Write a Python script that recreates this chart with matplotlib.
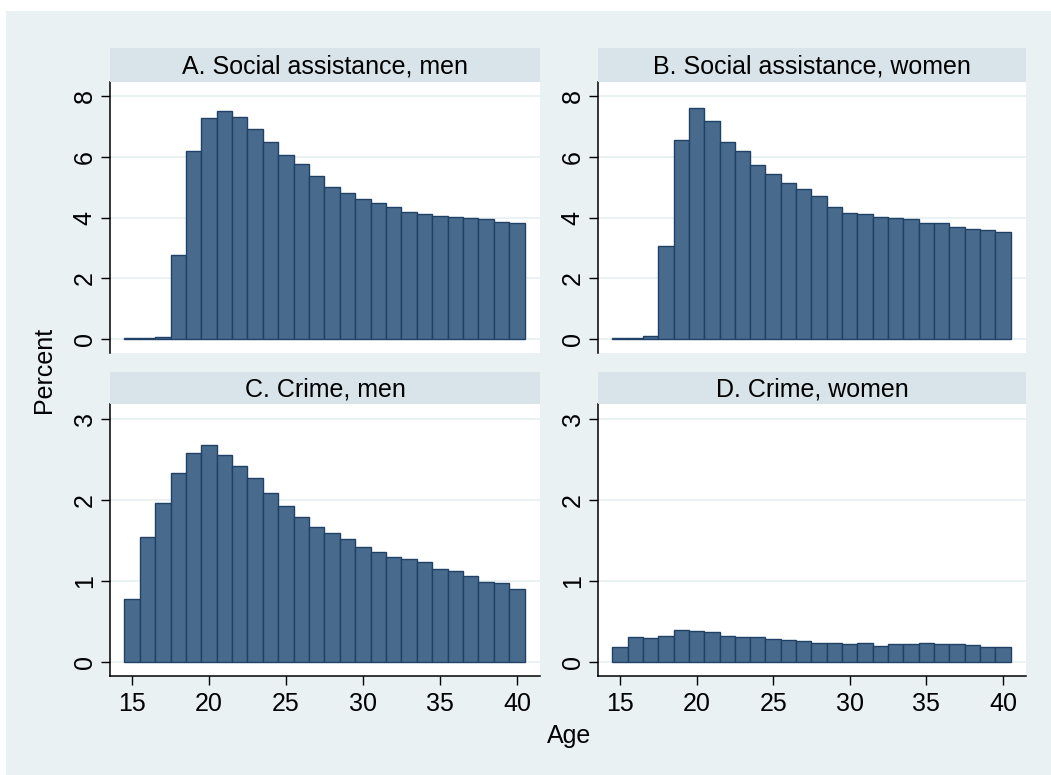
import matplotlib
matplotlib.use('Agg')
import matplotlib.pyplot as plt
import numpy as np

plt.rcParams['font.family'] = ['Liberation Sans', 'DejaVu Sans']

ages = list(range(15, 41))

sa_men = [0.02, 0.02, 0.08, 2.77, 6.20, 7.26, 7.49, 7.30, 6.90, 6.49, 6.07, 5.76, 5.36,
          5.02, 4.80, 4.61, 4.49, 4.34, 4.19, 4.12, 4.05, 4.02, 3.97, 3.94, 3.85, 3.81]
sa_women = [0.02, 0.02, 0.11, 3.07, 6.54, 7.59, 7.19, 6.49, 6.19, 5.73, 5.43, 5.14, 4.93,
            4.70, 4.36, 4.15, 4.11, 4.01, 3.97, 3.95, 3.81, 3.83, 3.70, 3.62, 3.60, 3.51]
crime_men = [0.78, 1.54, 1.96, 2.33, 2.58, 2.68, 2.56, 2.42, 2.27, 2.09, 1.92, 1.79, 1.67,
             1.59, 1.52, 1.42, 1.36, 1.30, 1.27, 1.23, 1.15, 1.12, 1.06, 0.99, 0.98, 0.90]
crime_women = [0.185, 0.31, 0.30, 0.32, 0.39, 0.38, 0.37, 0.32, 0.31, 0.31, 0.28, 0.27, 0.255,
               0.24, 0.23, 0.22, 0.24, 0.20, 0.22, 0.22, 0.23, 0.22, 0.22, 0.21, 0.185, 0.185]

titles = ['A. Social assistance, men', 'B. Social assistance, women',
          'C. Crime, men', 'D. Crime, women']
series = [sa_men, sa_women, crime_men, crime_women]

W, H = 1051, 775
bg = '#e9f1f3'
strip_c = '#d8e4ea'
grid_c = '#e9f1f3'
bar_c = '#486b8d'
edge_c = '#1f4166'
fs = 18

fig = plt.figure(figsize=(W / 100, H / 100), dpi=100)
fig.patch.set_facecolor('white')
fig.patches.append(plt.Rectangle((6 / W, 0), 1, 1 - 11 / H, transform=fig.transFigure,
                                 facecolor=bg, edgecolor='none', zorder=-10))

# pixel boxes: left, right, strip top, plot top, plot bottom
boxes = [(110, 540, 48, 82, 353), (598, 1026, 48, 82, 353),
         (110, 540, 372, 404, 676), (598, 1026, 372, 404, 676)]

for i, (l, r, st, pt, pb) in enumerate(boxes):
    ax = fig.add_axes([l / W, 1 - pb / H, (r - l) / W, (pb - pt) / H])
    sx = fig.add_axes([l / W, 1 - pt / H, (r - l) / W, (pt - st) / H])
    sx.set_facecolor(strip_c)
    sx.set_xticks([])
    sx.set_yticks([])
    for s in sx.spines.values():
        s.set_visible(False)
    sx.text(0.5, 0.45, titles[i], ha='center', va='center', fontsize=fs,
            transform=sx.transAxes)

    ax.bar(ages, series[i], width=1.0, color=bar_c, edgecolor=edge_c, linewidth=1.0, zorder=3)
    ax.set_xlim(13.57, 41.5)
    if i < 2:
        ax.set_ylim(-0.46, 8.46)
        ax.set_yticks([0, 2, 4, 6, 8])
        ax.set_xticks([])
        ax.spines['bottom'].set_visible(False)
    else:
        ax.set_ylim(-0.173, 3.185)
        ax.set_yticks([0, 1, 2, 3])
        ax.set_xticks([15, 20, 25, 30, 35, 40])
    ax.spines['top'].set_visible(False)
    ax.spines['right'].set_visible(False)
    ax.spines['left'].set_linewidth(1.1)
    ax.spines['bottom'].set_linewidth(1.1)
    ax.grid(True, axis='y', color=grid_c, linewidth=1.3, zorder=0)
    ax.set_axisbelow(True)
    ax.tick_params(axis='y', labelrotation=90, length=6.5, width=1.0, pad=3, labelsize=fs)
    ax.tick_params(axis='x', length=6.5, width=1.0, pad=5, labelsize=fs)
    for lab in ax.get_yticklabels():
        lab.set_va('center')

fig.text(44 / W, 1 - 370 / H, 'Percent', rotation=90, ha='center', va='center', fontsize=fs)
fig.text(569 / W, 1 - 736 / H, 'Age', ha='center', va='center', fontsize=fs)

fig.savefig('out.png', dpi=100, facecolor=fig.get_facecolor())
